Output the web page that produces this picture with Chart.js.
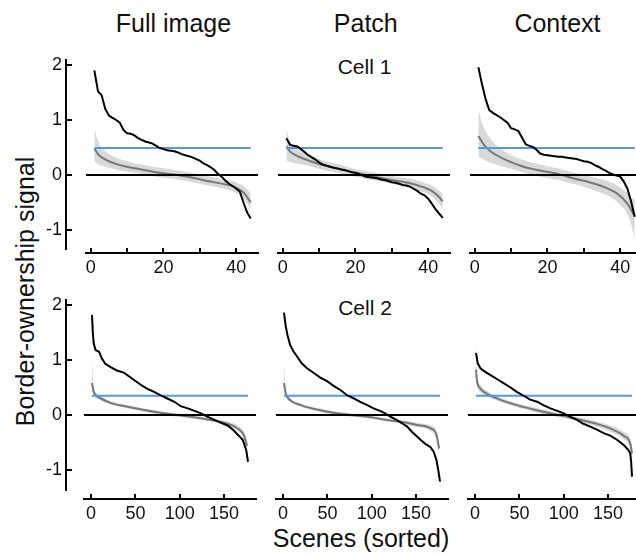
<!DOCTYPE html>
<html><head><meta charset="utf-8">
<script src="https://cdn.jsdelivr.net/npm/chart.js@4/dist/chart.umd.min.js"></script>
<style>
html,body{margin:0;padding:0;background:#fff;width:636px;height:554px;overflow:hidden;position:relative;font-family:"Liberation Sans",Arial,sans-serif;}
canvas{position:absolute;}
.t{position:absolute;text-align:center;line-height:1;color:#111;white-space:nowrap;}
</style></head><body>
<div class="t" style="left:73.5px;top:10.5px;width:200px;font-size:25px">Full image</div>
<div class="t" style="left:265.8px;top:10.5px;width:200px;font-size:25px">Patch</div>
<div class="t" style="left:457.5px;top:10.5px;width:200px;font-size:25px">Context</div>
<div class="t" style="left:314.5px;top:55.5px;width:100px;font-size:21px">Cell 1</div>
<div class="t" style="left:315px;top:297.2px;width:100px;font-size:21px">Cell 2</div>
<div class="t" style="left:-125.4px;top:278.5px;width:300px;font-size:25px;transform:rotate(-90deg)">Border-ownership signal</div>
<div class="t" style="left:211px;top:526.1px;width:300px;font-size:25px">Scenes (sorted)</div>
<canvas id="yax1"></canvas><canvas id="yax2"></canvas>
<canvas id="p1"></canvas><canvas id="p2"></canvas><canvas id="p3"></canvas>
<canvas id="p4"></canvas><canvas id="p5"></canvas><canvas id="p6"></canvas>
<script>
// ---------------- data ----------------
const yTickValues = [-1, 0, 1, 2];
const yTickLabels = ['-1', '0', '1', '2'];
const xTicksCell1 = [0, 10, 20, 30, 40];
const xTickLabelsCell1 = ['0', '', '20', '', '40'];
const xTicksCell2 = [0, 50, 100, 150];
const xTickLabelsCell2 = ['0', '50', '100', '150'];

const thresholdCell1 = 0.49;
const thresholdCell2 = 0.35;
const scenesCell1Range = [1, 44];
const scenesCell2Range = [1, 177];

// Cell 1: 44 scenes
const scenesCell1 = [1,2,3,4,5,6,7,8,9,10,11,12,13,14,15,16,17,18,19,20,21,22,23,24,25,26,27,28,29,30,31,32,33,34,35,36,37,38,39,40,41,42,43,44];
const fullCell1 = [1.90,1.52,1.45,1.20,1.08,1.04,1.00,0.95,0.82,0.76,0.75,0.72,0.67,0.64,0.61,0.59,0.57,0.53,0.49,0.47,0.45,0.44,0.43,0.41,0.38,0.36,0.34,0.32,0.29,0.26,0.21,0.18,0.14,0.09,0.02,-0.03,-0.10,-0.16,-0.20,-0.25,-0.30,-0.50,-0.68,-0.79];
const patchCell1 = [0.67,0.55,0.53,0.52,0.47,0.42,0.36,0.32,0.28,0.23,0.19,0.17,0.15,0.13,0.12,0.10,0.09,0.07,0.05,0.04,0.02,-0.01,-0.03,-0.04,-0.05,-0.06,-0.08,-0.09,-0.11,-0.13,-0.14,-0.16,-0.18,-0.19,-0.21,-0.25,-0.29,-0.34,-0.37,-0.43,-0.52,-0.62,-0.70,-0.78];
const contextCell1 = [1.96,1.65,1.38,1.18,1.13,1.09,1.05,1.00,0.95,0.85,0.83,0.80,0.68,0.56,0.53,0.51,0.46,0.39,0.37,0.36,0.35,0.34,0.33,0.33,0.32,0.31,0.30,0.29,0.27,0.25,0.24,0.22,0.18,0.15,0.11,0.08,0.04,0.01,-0.01,-0.03,-0.12,-0.25,-0.48,-0.76];

// shuffled control (mean, upper, lower), cell 1
const fullCell1CtrlX   = [1,2,3,5,8,10,14,19,24,28,33,37,40,42,43,44];
const fullCell1CtrlM   = [0.48,0.38,0.32,0.25,0.18,0.15,0.10,0.04,0.00,-0.05,-0.12,-0.17,-0.23,-0.32,-0.40,-0.50];
const fullCell1CtrlHi  = [0.85,0.62,0.50,0.38,0.29,0.25,0.19,0.13,0.08,0.03,-0.03,-0.08,-0.13,-0.20,-0.26,-0.33];
const fullCell1CtrlLo  = [0.25,0.20,0.17,0.13,0.08,0.06,0.02,-0.04,-0.08,-0.13,-0.20,-0.26,-0.33,-0.43,-0.52,-0.62];
const patchCell1CtrlX  = [1,2,3,6,10,15,20,26,30,35,39,41,43,44];
const patchCell1CtrlM  = [0.52,0.43,0.38,0.29,0.20,0.12,0.04,-0.04,-0.09,-0.15,-0.23,-0.29,-0.40,-0.48];
const patchCell1CtrlHi = [0.82,0.62,0.52,0.40,0.29,0.20,0.11,0.03,-0.02,-0.07,-0.14,-0.19,-0.28,-0.34];
const patchCell1CtrlLo = [0.26,0.24,0.22,0.18,0.11,0.04,-0.03,-0.11,-0.16,-0.23,-0.32,-0.39,-0.52,-0.62];
const contextCell1CtrlX  = [1,2,3,5,9,13,18,23,27,32,36,39,42,43,44];
const contextCell1CtrlM  = [0.71,0.60,0.51,0.40,0.26,0.16,0.08,0.02,-0.06,-0.14,-0.23,-0.33,-0.52,-0.63,-0.75];
const contextCell1CtrlHi = [1.20,0.95,0.80,0.60,0.40,0.28,0.19,0.12,0.05,-0.03,-0.10,-0.18,-0.33,-0.40,-0.45];
const contextCell1CtrlLo = [0.33,0.30,0.26,0.21,0.13,0.05,-0.03,-0.09,-0.16,-0.26,-0.36,-0.48,-0.72,-0.90,-1.18];

// Cell 2: 177 scenes (sampled ranks)
const fullCell2X = [1,2,3,5,9,12,16,22,29,37,43,48,56,63,71,78,86,94,101,109,116,124,131,139,146,154,160,165,171,175,177];
const fullCell2  = [1.82,1.48,1.30,1.18,1.15,1.03,0.93,0.87,0.81,0.77,0.70,0.64,0.55,0.48,0.42,0.36,0.30,0.24,0.16,0.12,0.08,0.03,-0.03,-0.09,-0.14,-0.19,-0.27,-0.35,-0.45,-0.64,-0.85];
const patchCell2X = [1,3,5,8,12,16,21,27,35,42,50,57,65,72,80,87,95,102,110,115,121,128,134,140,145,151,155,160,166,170,173,175,177];
const patchCell2  = [1.86,1.61,1.45,1.27,1.15,1.06,0.94,0.85,0.76,0.68,0.61,0.53,0.45,0.36,0.30,0.24,0.18,0.12,0.07,0.03,-0.03,-0.09,-0.15,-0.21,-0.30,-0.39,-0.45,-0.52,-0.58,-0.67,-0.82,-1.00,-1.21];
const contextCell2X = [1,3,6,11,17,25,32,40,47,55,62,70,77,85,92,100,107,115,122,130,138,145,153,160,168,173,175,176,177];
const contextCell2  = [1.13,0.94,0.85,0.79,0.73,0.65,0.58,0.50,0.42,0.35,0.28,0.24,0.18,0.12,0.08,0.03,-0.03,-0.09,-0.16,-0.21,-0.27,-0.33,-0.38,-0.45,-0.55,-0.64,-0.70,-0.85,-1.12];

const fullCell2CtrlX  = [1,3,6,11,22,41,60,78,97,116,135,154,165,172,176];
const fullCell2CtrlM  = [0.58,0.42,0.35,0.30,0.22,0.15,0.09,0.04,0.00,-0.04,-0.09,-0.16,-0.24,-0.36,-0.56];
const fullCell2CtrlHi = [1.00,0.52,0.40,0.34,0.25,0.18,0.12,0.07,0.03,-0.01,-0.06,-0.12,-0.19,-0.29,-0.45];
const fullCell2CtrlLo = [0.45,0.36,0.30,0.26,0.19,0.12,0.06,0.01,-0.03,-0.07,-0.12,-0.20,-0.29,-0.43,-0.75];
const patchCell2CtrlX  = [1,3,8,20,38,57,76,95,113,132,151,166,173,176];
const patchCell2CtrlM  = [0.58,0.39,0.27,0.18,0.10,0.04,0.00,-0.03,-0.08,-0.12,-0.18,-0.24,-0.36,-0.61];
const patchCell2CtrlHi = [0.91,0.48,0.31,0.21,0.13,0.07,0.03,0.00,-0.05,-0.09,-0.14,-0.19,-0.28,-0.50];
const patchCell2CtrlLo = [0.45,0.33,0.23,0.15,0.07,0.01,-0.03,-0.06,-0.11,-0.15,-0.22,-0.29,-0.44,-0.76];
const contextCell2CtrlX  = [1,2,6,13,28,47,66,85,104,122,141,156,168,175,177];
const contextCell2CtrlM  = [0.83,0.64,0.48,0.39,0.28,0.18,0.10,0.03,-0.03,-0.10,-0.18,-0.27,-0.38,-0.52,-0.70];
const contextCell2CtrlHi = [1.33,0.80,0.55,0.44,0.32,0.22,0.14,0.07,0.01,-0.06,-0.13,-0.21,-0.31,-0.43,-0.58];
const contextCell2CtrlLo = [0.60,0.52,0.41,0.34,0.24,0.14,0.06,-0.01,-0.07,-0.14,-0.23,-0.33,-0.45,-0.62,-0.85];

// ---------------- layout ----------------
Chart.defaults.font.family = '"Liberation Sans", Arial, sans-serif';
Chart.defaults.color = '#111';
const PX_PER_UNIT = 55;
const rows = [
  {zero: 175, top: 60, bottom: 253, axBottom: 249},
  {zero: 415, top: 300, bottom: 499, axBottom: 490}
];
const TICK_FONT = 18;
const pts = (xs, ys) => xs.map((x, i) => ({x: x, y: ys[i]}));

function yAxisChart(id, row) {
  const cTop = row.top - 10, cH = row.axBottom + 11 - cTop;
  const cv = document.getElementById(id);
  cv.width = 90; cv.height = cH;
  cv.style.left = '0px'; cv.style.top = cTop + 'px';
  new Chart(cv, {
    type: 'line',
    data: {datasets: []},
    options: {
      responsive: false, animation: false, devicePixelRatio: 1,
      layout: {padding: {top: 10, bottom: 11, left: 0, right: 10}},
      plugins: {legend: {display: false}, tooltip: {enabled: false}},
      scales: {
        x: {type: 'linear', display: false, min: 0, max: 1},
        y: {
          type: 'linear', position: 'left',
          min: (row.zero - row.axBottom) / PX_PER_UNIT, max: (row.zero - row.top) / PX_PER_UNIT,
          border: {display: true, width: 2, color: '#000'},
          grid: {display: true, drawOnChartArea: false, drawTicks: true, tickLength: -6, color: '#000', lineWidth: 2},
          ticks: {padding: 10, font: {size: TICK_FONT}, color: '#111', callback: (v, i) => yTickLabels[i]},
          afterBuildTicks: s => { s.ticks = yTickValues.map(v => ({value: v})); },
          afterFit: s => { s.width = 66; s.paddingTop = 0; s.paddingBottom = 0; s.paddingLeft = 0; s.paddingRight = 0; }
        }
      }
    }
  });
}

function panel(id, row, left, xMin, xMax, tickVals, tickLabels, black, ctrl, thr, range) {
  const PAD = 15, XH = 40;
  const w = 172, h = row.bottom - row.top;
  const cv = document.getElementById(id);
  cv.width = w + 2 * PAD; cv.height = h + XH;
  cv.style.left = (left - PAD) + 'px'; cv.style.top = row.top + 'px';
  new Chart(cv, {
    type: 'line',
    data: {datasets: [
      {data: black, borderColor: '#000', borderWidth: 2, pointRadius: 0, tension: 0},
      {data: [{x: xMin, y: 0}, {x: xMax, y: 0}], borderColor: '#000', borderWidth: 2, pointRadius: 0},
      {data: [{x: range[0], y: thr}, {x: range[1], y: thr}], borderColor: '#5596f0', borderWidth: 2, pointRadius: 0},
      {data: ctrl.m, borderColor: '#787878', borderWidth: 2, pointRadius: 0, cubicInterpolationMode: 'monotone'},
      {data: ctrl.hi, borderWidth: 0, borderColor: 'rgba(0,0,0,0)', pointRadius: 0, fill: '+1', backgroundColor: '#d9d9d9', cubicInterpolationMode: 'monotone'},
      {data: ctrl.lo, borderWidth: 0, borderColor: 'rgba(0,0,0,0)', pointRadius: 0, fill: false, cubicInterpolationMode: 'monotone'}
    ]},
    options: {
      responsive: false, animation: false, devicePixelRatio: 1,
      layout: {padding: {top: 0, bottom: 0, left: PAD, right: PAD}},
      plugins: {legend: {display: false}, tooltip: {enabled: false}},
      scales: {
        x: {
          type: 'linear', position: 'bottom', min: xMin, max: xMax,
          border: {display: true, width: 2, color: '#000'},
          grid: {display: true, drawOnChartArea: false, drawTicks: true, tickLength: -5, color: '#000', lineWidth: 2},
          ticks: {autoSkip: false, maxRotation: 0, padding: 9, font: {size: TICK_FONT}, color: '#111', callback: (v, i) => tickLabels[i]},
          afterBuildTicks: s => { s.ticks = tickVals.map(v => ({value: v})); },
          afterFit: s => { s.height = XH; s.paddingLeft = 0; s.paddingRight = 0; s.paddingTop = 0; s.paddingBottom = 0; }
        },
        y: {display: false, min: (row.zero - row.bottom) / PX_PER_UNIT, max: (row.zero - row.top) / PX_PER_UNIT}
      }
    }
  });
}

yAxisChart('yax1', rows[0]);
yAxisChart('yax2', rows[1]);

panel('p1', rows[0], 86, -1.3, 46, xTicksCell1, xTickLabelsCell1, pts(scenesCell1, fullCell1),
  {m: pts(fullCell1CtrlX, fullCell1CtrlM), hi: pts(fullCell1CtrlX, fullCell1CtrlHi), lo: pts(fullCell1CtrlX, fullCell1CtrlLo)}, thresholdCell1, scenesCell1Range);
panel('p2', rows[0], 278, -1.3, 46, xTicksCell1, xTickLabelsCell1, pts(scenesCell1, patchCell1),
  {m: pts(patchCell1CtrlX, patchCell1CtrlM), hi: pts(patchCell1CtrlX, patchCell1CtrlHi), lo: pts(patchCell1CtrlX, patchCell1CtrlLo)}, thresholdCell1, scenesCell1Range);
panel('p3', rows[0], 470, -1.3, 46, xTicksCell1, xTickLabelsCell1, pts(scenesCell1, contextCell1),
  {m: pts(contextCell1CtrlX, contextCell1CtrlM), hi: pts(contextCell1CtrlX, contextCell1CtrlHi), lo: pts(contextCell1CtrlX, contextCell1CtrlLo)}, thresholdCell1, scenesCell1Range);
panel('p4', rows[1], 84, -8, 186, xTicksCell2, xTickLabelsCell2, pts(fullCell2X, fullCell2),
  {m: pts(fullCell2CtrlX, fullCell2CtrlM), hi: pts(fullCell2CtrlX, fullCell2CtrlHi), lo: pts(fullCell2CtrlX, fullCell2CtrlLo)}, thresholdCell2, scenesCell2Range);
panel('p5', rows[1], 276, -8, 186, xTicksCell2, xTickLabelsCell2, pts(patchCell2X, patchCell2),
  {m: pts(patchCell2CtrlX, patchCell2CtrlM), hi: pts(patchCell2CtrlX, patchCell2CtrlHi), lo: pts(patchCell2CtrlX, patchCell2CtrlLo)}, thresholdCell2, scenesCell2Range);
panel('p6', rows[1], 468, -8, 186, xTicksCell2, xTickLabelsCell2, pts(contextCell2X, contextCell2),
  {m: pts(contextCell2CtrlX, contextCell2CtrlM), hi: pts(contextCell2CtrlX, contextCell2CtrlHi), lo: pts(contextCell2CtrlX, contextCell2CtrlLo)}, thresholdCell2, scenesCell2Range);
</script>
</body></html>
